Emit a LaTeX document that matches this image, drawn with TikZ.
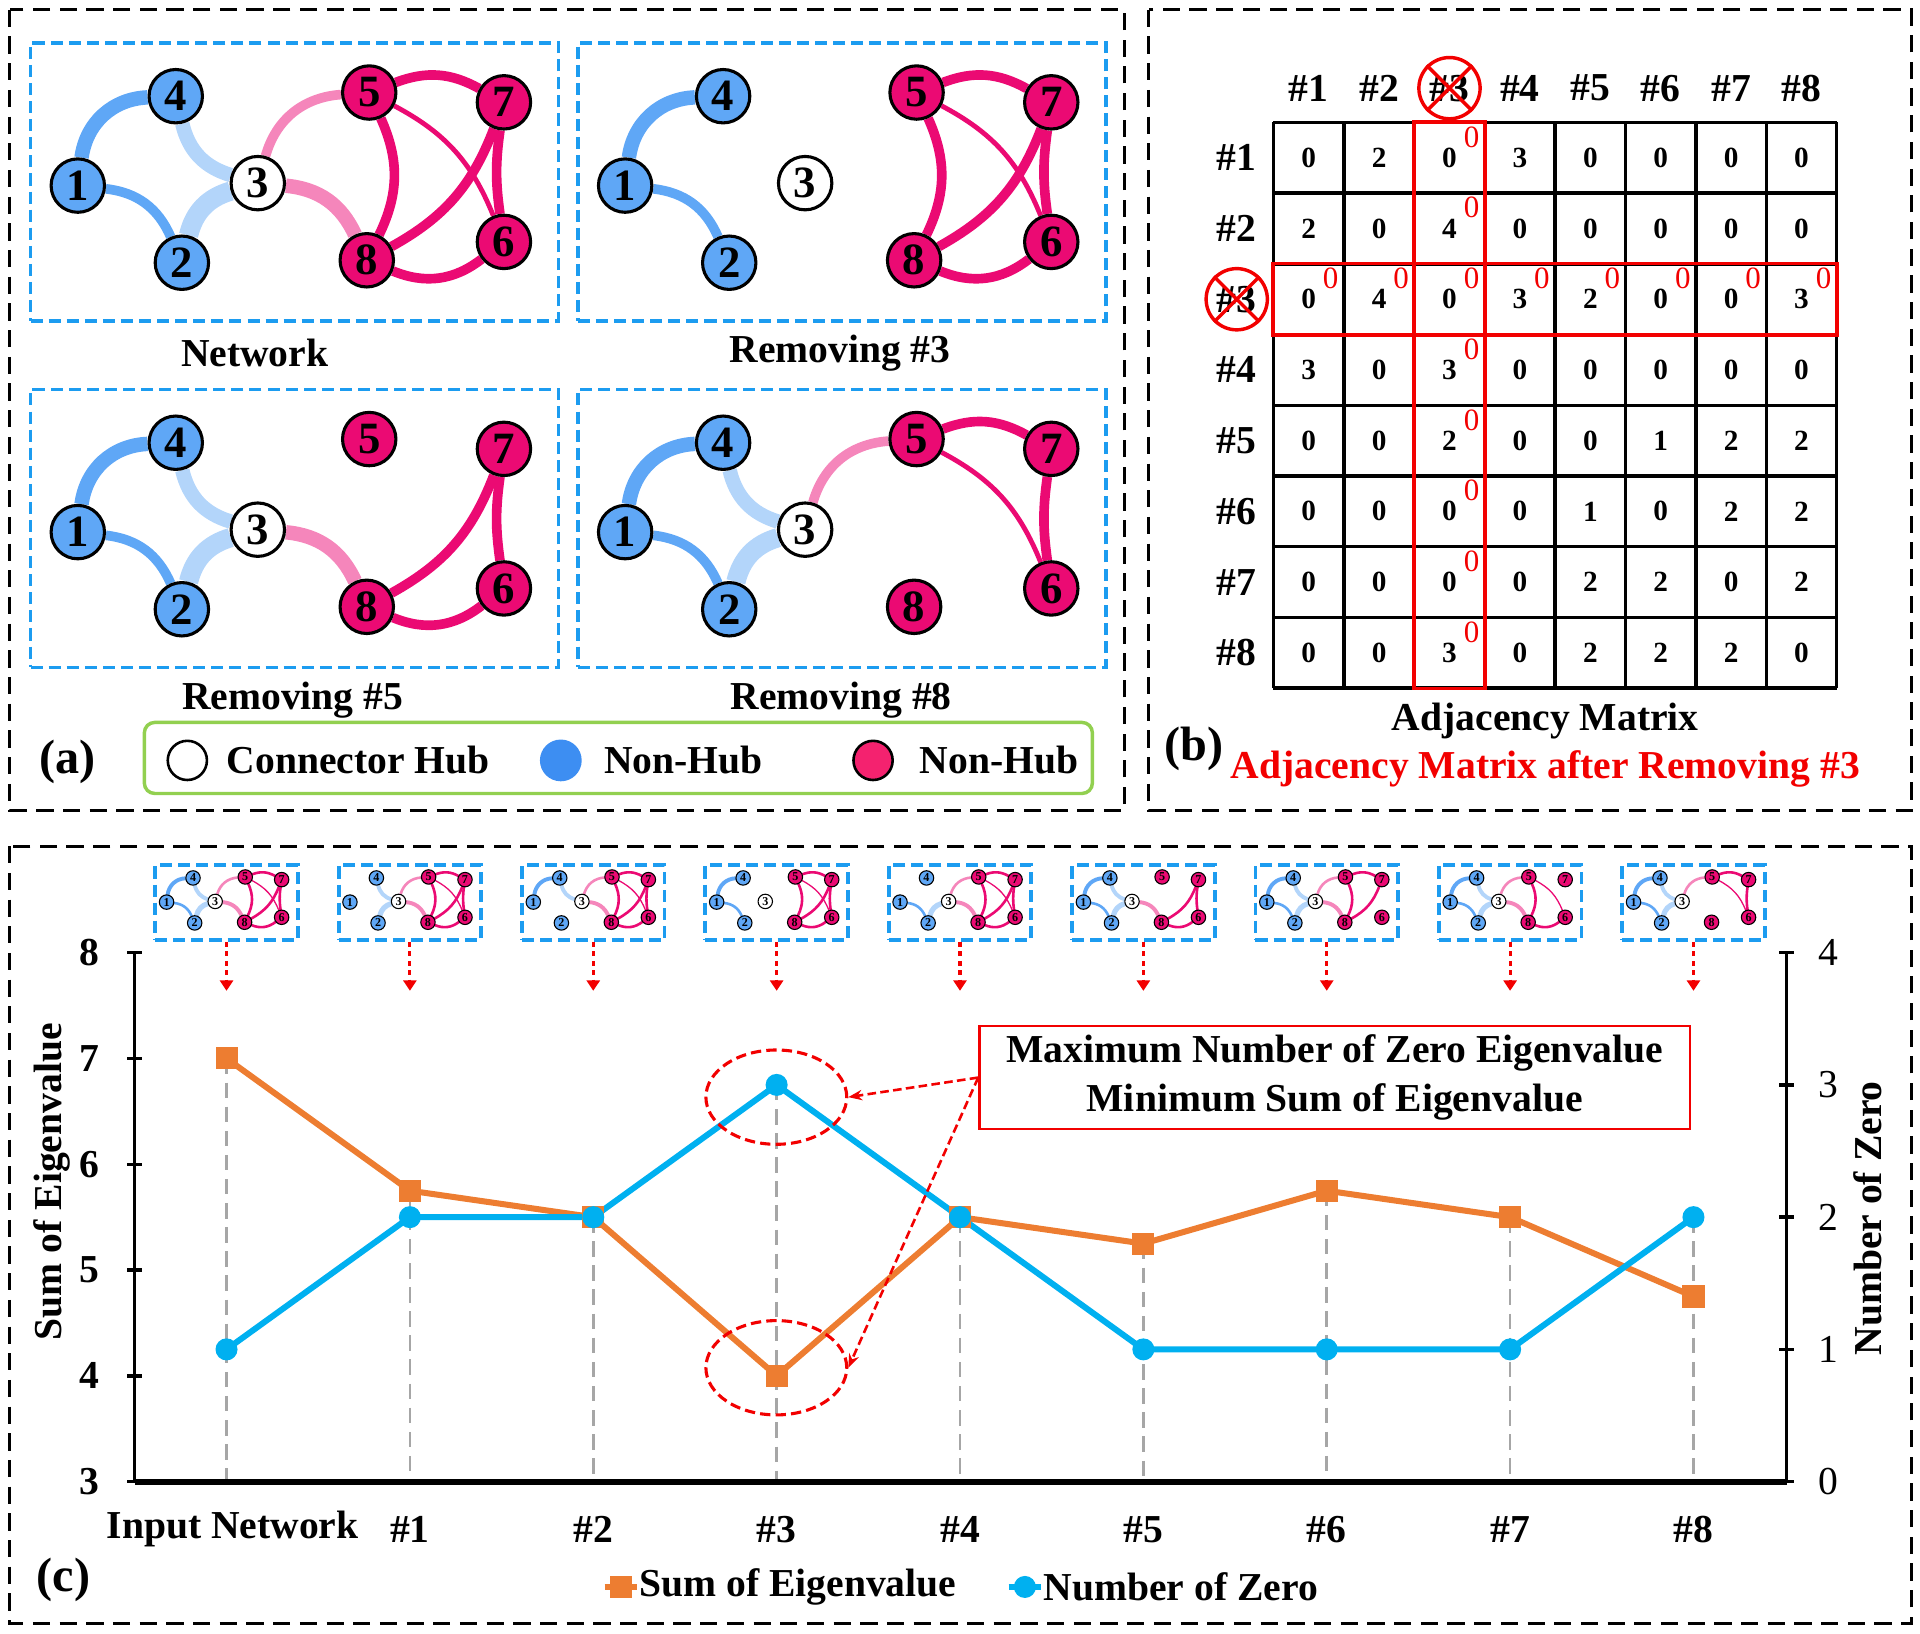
\documentclass[tikz,border=0pt]{standalone}
\usepackage{fontspec}
\setmainfont{Liberation Serif}
\usepackage{xcolor}
\usepackage{tikz}
\usetikzlibrary{arrows.meta,calc,shapes.geometric,backgrounds}
\definecolor{cBlueN}{HTML}{5FA7F6}
\definecolor{cBlueL}{HTML}{B3D5FA}
\definecolor{cPink}{HTML}{EB0A73}
\definecolor{cPinkL}{HTML}{F586BB}
\definecolor{cBox}{HTML}{1C9CF0}
\definecolor{cRed}{HTML}{F20000}
\definecolor{cGreen}{HTML}{92D050}
\definecolor{cOrange}{HTML}{ED7D31}
\definecolor{cCyan}{HTML}{00B0F0}
\definecolor{cDrop}{HTML}{A6A6A6}
\definecolor{cLegBlue}{HTML}{3D8EF2}
\definecolor{cLegPink}{HTML}{F4226F}
\tikzset{
  frame/.style={draw=black,line width=1.8pt,dash pattern=on 10pt off 5.5pt},
  netbox/.style={draw=cBox,line width=2pt,dash pattern=on 7pt off 3.5pt,minimum width=10.775cm,minimum height=5.675cm,inner sep=0pt},
  thumb/.style={draw=cBox,line width=2.2pt,dash pattern=on 7pt off 3.5pt,minimum width=2.91cm,minimum height=1.53cm,inner sep=0pt},
  vtx/.style={circle,draw=black,fill=#1,minimum size=1.09cm,inner sep=0pt,font=\fontsize{26}{26}\selectfont\bfseries},
  lbl/.style={font=\fontsize{23}{28.5}\selectfont\bfseries,inner sep=0pt},
  plbl/.style={font=\fontsize{28}{30}\selectfont\bfseries,inner sep=0pt},
  rtick/.style={font=\fontsize{23}{27}\selectfont,inner sep=0pt},
  legbox/.style={draw=cGreen,line width=2pt,rounded corners=6pt,minimum width=19.35cm,minimum height=1.45cm},
  legdot/.style={circle,minimum size=0.8cm,inner sep=0pt,line width=1.5pt},
  cell/.style={minimum width=1.4375cm,minimum height=1.44375cm,inner sep=0pt,font=\fontsize{17}{17}\selectfont\bfseries},
  redz/.style={text=cRed,inner sep=0pt,font=\fontsize{18}{18}\selectfont},
  mline/.style={line width=2pt},
  redhl/.style={draw=cRed,line width=2.2pt},
  xmark/.style={circle,draw=cRed,line width=2pt,minimum size=1.25cm,inner sep=0pt},
  xline/.style={draw=cRed,line width=2pt},
  axis/.style={line width=2pt},
  drop/.style={draw=cDrop,line width=1.6pt,dash pattern=on 9pt off 5pt},
  oline/.style={draw=cOrange,line width=3.5pt},
  zline/.style={draw=cCyan,line width=3.5pt},
  osq/.style={fill=cOrange,minimum size=0.45cm,inner sep=0pt},
  zdot/.style={circle,fill=cCyan,minimum size=0.45cm,inner sep=0pt},
  dotarr/.style={draw=cRed,line width=1.8pt,dash pattern=on 3pt off 2.5pt,-{Triangle[length=6pt,width=7.5pt]}},
  ring/.style={ellipse,draw=cRed,line width=1.8pt,dash pattern=on 6pt off 3pt,minimum width=2.875cm,minimum height=1.925cm,inner sep=0pt},
  callarr/.style={draw=cRed,line width=1.5pt,dash pattern=on 5pt off 2.5pt,-{Stealth[length=8pt]}},
  note/.style={draw=cRed,line width=1.5pt,minimum width=14.5cm,minimum height=2.1cm,align=center,font=\fontsize{23}{28.5}\selectfont\bfseries},
}
% #1 name prefix, #2 removed node (0 = none), #3 top-left corner, #4 scale
\newcommand{\drawnet}[4]{%
  \begin{scope}[shift={#3},scale=#4,transform shape]
    \foreach \nn/\px/\py/\nc in {1/40/118/cBlueN,2/125/181/cBlueN,3/187/116/white,4/120/45/cBlueN,
                                 5/278/42/cPink,6/388/164/cPink,7/388/50/cPink,8/276/179/cPink}
      \node[vtx=\nc,line width=1.6pt*#4+0.2pt] (#1-\nn) at (\px,\py) {\nn};
    \begin{scope}[on background layer]
    \foreach \na/\nb/\ew/\ec/\eb in {1/4/3/cBlueN/40,1/2/2/cBlueN/30,4/3/3/cBlueL/-30,2/3/4/cBlueL/30,
                                     3/5/2/cPinkL/35,3/8/3/cPinkL/30,5/7/2/cPink/25,5/8/2/cPink/25,
                                     5/6/1/cPink/20,8/7/2/cPink/-20,7/6/2/cPink/-8,8/6/2/cPink/-30}{
      \ifnum\na=#2\relax\else\ifnum\nb=#2\relax\else
        \draw[line width=2.8pt*\ew*#4,draw=\ec] (#1-\na) to[bend left=\eb] (#1-\nb);
      \fi\fi}
    \end{scope}
  \end{scope}}

\begin{document}
\begin{tikzpicture}[x=0.025cm,y=-0.025cm]
  \useasboundingbox (0,0) rectangle (1568,1334);
  \draw[frame] (8,8) rectangle (918,662);
  \draw[frame] (938,8) rectangle (1561,662);
  \draw[frame] (8,691) rectangle (1561,1326);

  \node[netbox] (pa) at (240.5,148.5) {};
  \node[netbox] (pb) at (687.5,148.5) {};
  \node[netbox] (pc) at (240.5,431.5) {};
  \node[netbox] (pd) at (687.5,431.5) {};
  \drawnet{a}{0}{(pa.north west)}{1}
  \drawnet{b}{3}{(pb.north west)}{1}
  \drawnet{c}{5}{(pc.north west)}{1}
  \drawnet{d}{8}{(pd.north west)}{1}
  \node[lbl] (la) at (208,288) {Network};
  \node[lbl] (lb) at (686,288) {Removing \#3};
  \node[lbl] (lc) at (239,572) {Removing \#5};
  \node[lbl] (ld) at (687,572) {Removing \#8};

  \node[legbox] (leg) at (505,619) {};
  \node[legdot,draw=black,fill=white] (k1) at (153,621) {};
  \node[lbl,anchor=west] (k1t) at (185,621) {Connector Hub};
  \node[legdot,draw=cLegBlue,fill=cLegBlue] (k2) at (458,621) {};
  \node[lbl,anchor=west] (k2t) at (493,621) {Non-Hub};
  \node[legdot,draw=black,fill=cLegPink] (k3) at (713,621) {};
  \node[lbl,anchor=west] (k3t) at (751,621) {Non-Hub};
  \node[plbl] (ta) at (55,622) {(a)};

  % (b) adjacency matrix
  \foreach \k in {0,...,8}{
    \draw[mline] (1040+57.5*\k,100) -- (1040+57.5*\k,562);
    \draw[mline] (1040,100+57.75*\k) -- (1500,100+57.75*\k);}
  \foreach \row [count=\i] in {{0,2,0,3,0,0,0,0},{2,0,4,0,0,0,0,0},{0,4,0,3,2,0,0,3},{3,0,3,0,0,0,0,0},
                               {0,0,2,0,0,1,2,2},{0,0,0,0,1,0,2,2},{0,0,0,0,2,2,0,2},{0,0,3,0,2,2,2,0}}{
    \foreach \val [count=\j] in \row
      \node[cell] (m\i-\j) at ({1040+57.5*(\j-0.5)},{100+57.75*(\i-0.5)}) {\val};}
  \foreach \i in {1,...,8}{
    \node[lbl] (ch\i) at ({1040+57.5*(\i-0.5)},72) {\#\i};
    \node[lbl] (rh\i) at (1010,{100+57.75*(\i-0.5)}) {\#\i};
    \node[redz] (rc\i) at ($(m\i-3)+(18,-17)$) {0};}
  \foreach \j in {1,2,4,5,6,7,8}
    \node[redz] (rr\j) at ($(m3-\j)+(18,-17)$) {0};
  \draw[redhl] (m1-3.north west) rectangle (m8-3.south east);
  \draw[redhl] (m3-1.north west) rectangle (m3-8.south east);
  \node[xmark] (xc) at (ch3) {};
  \node[xmark] (xr) at (rh3) {};
  \draw[xline] (xc.north west) -- (xc.south east) (xc.north east) -- (xc.south west);
  \draw[xline] (xr.north west) -- (xr.south east) (xr.north east) -- (xr.south west);
  \node[lbl] (mt) at (1262,589) {Adjacency Matrix};
  \node[lbl,text=cRed] (mr) at (1262,628) {Adjacency Matrix after Removing \#3};
  \node[plbl] (tb) at (975,612) {(b)};

  % (c) eigenvalue chart
  \foreach \i in {0,...,8}{
    \node[thumb] (tb\i) at ({185+149.75*\i},737) {};
    \drawnet{t\i}{\i}{(tb\i.north west)}{0.27}
    \draw[dotarr] (tb\i.south) -- ++(0,40);}
  \foreach \val [count=\i from 0] in {7,5.75,5.5,4,5.5,5.25,5.75,5.5,4.75}
    \coordinate (o\i) at ({185+149.75*\i},{778+(8-\val)*86.4});
  \foreach \val [count=\i from 0] in {1,2,2,3,2,1,1,1,2}
    \coordinate (z\i) at ({185+149.75*\i},{778+(4-\val)*108});
  \coordinate (ax0) at (110,1210);
  \foreach \i/\s in {0/o,1/o,2/o,3/z,4/o,5/o,6/o,7/o,8/z}
    \draw[drop] (\s\i) -- (\s\i |- ax0);
  \draw[axis] (110,778) -- (ax0);
  \draw[axis] (1459,778) -- (1459,1210);
  \draw[line width=3.5pt] (ax0) -- (1459,1210);
  \foreach \val in {3,...,8}{
    \draw[axis] (104,{778+(8-\val)*86.4}) -- ++(12,0);
    \node[lbl] (yl\val) at (73,{778+(8-\val)*86.4}) {\val};}
  \foreach \val in {0,...,4}{
    \draw[axis] (1453,{778+(4-\val)*108}) -- ++(12,0);
    \node[rtick] (yr\val) at (1493,{778+(4-\val)*108}) {\val};}
  \foreach \xt [count=\i from 0] in {Input Network,\#1,\#2,\#3,\#4,\#5,\#6,\#7,\#8}
    \node[lbl] (xl\i) at ({185+149.75*\i+(\i==0)*5},1249) {\xt};
  \node[lbl,rotate=90] (ytl) at (42,965) {Sum of Eigenvalue};
  \node[lbl,rotate=90] (ytr) at (1525,995) {Number of Zero};

  \draw[oline] (o0) \foreach \i in {1,...,8}{ -- (o\i)};
  \draw[zline] (z0) \foreach \i in {1,...,8}{ -- (z\i)};
  \foreach \i in {0,...,8}{
    \node[osq] (om\i) at (o\i) {};
    \node[zdot] (zm\i) at (z\i) {};}

  \node[note] (note) at (1090,880) {Maximum Number of Zero Eigenvalue\\Minimum Sum of Eigenvalue};
  \node[ring] (e1) at (634,896) {};
  \node[ring] (e2) at (634,1117) {};
  \draw[callarr] (note.west) -- (e1.east);
  \draw[callarr] (note.west) -- (e2.east);

  \node[osq] (lo) at (507,1296) {};
  \draw[oline] ([xshift=-0.33cm]lo.center) -- ([xshift=0.33cm]lo.center);
  \node[lbl,anchor=west] (lot) at (522,1296) {Sum of Eigenvalue};
  \node[zdot] (lz) at (837,1296) {};
  \draw[zline] ([xshift=-0.33cm]lz.center) -- ([xshift=0.33cm]lz.center);
  \node[lbl,anchor=west] (lzt) at (852,1296) {Number of Zero};
  \node[plbl] (tc) at (52,1290) {(c)};
\end{tikzpicture}
\end{document}
